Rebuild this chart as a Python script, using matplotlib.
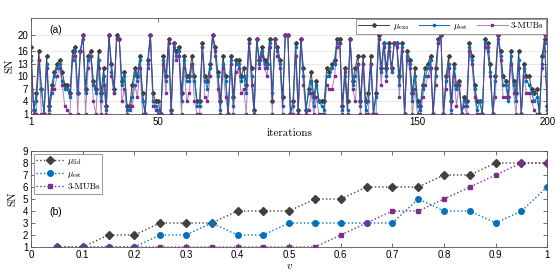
import numpy as np
import matplotlib
matplotlib.use("Agg")
import matplotlib.pyplot as plt
from matplotlib.colors import to_rgba

plt.rcParams['mathtext.fontset'] = 'cm'
plt.rcParams['font.family'] = ['Liberation Sans', 'DejaVu Sans']
plt.rcParams['axes.unicode_minus'] = False

# ---- panel (a): SN vs iterations ----
it = np.arange(1, 201)
sn_exa = [17, 2, 6, 16, 7, 1, 15, 3, 8, 11, 13, 14, 11, 8, 8, 6, 16, 17, 6, 16,
          20, 7, 15, 16, 9, 7, 16, 6, 12, 3, 20, 13, 7, 20, 19, 9, 11, 3, 3, 8,
          12, 10, 15, 6, 1, 14, 20, 6, 4, 4, 1, 15, 10, 19, 2, 18, 16, 17, 6, 15,
          10, 10, 15, 10, 4, 4, 18, 10, 9, 13, 20, 17, 11, 4, 15, 10, 1, 15, 5, 14,
          14, 10, 12, 8, 19, 12, 2, 19, 14, 17, 14, 13, 19, 4, 19, 17, 14, 5, 20, 20,
          1, 4, 18, 2, 19, 12, 2, 7, 11, 5, 9, 4, 4, 4, 12, 11, 13, 14, 19, 19,
          3, 12, 4, 19, 9, 12, 15, 4, 15, 4, 6, 15, 1, 6, 20, 12, 18, 12, 18, 12,
          18, 18, 10, 18, 1, 16, 14, 6, 12, 4, 3, 8, 12, 13, 15, 1, 12, 19, 20, 1,
          10, 15, 4, 13, 8, 9, 1, 5, 4, 18, 15, 8, 4, 4, 1, 19, 18, 13, 1, 10,
          20, 16, 10, 9, 5, 16, 9, 6, 16, 1, 13, 10, 10, 7, 6, 7, 1, 15, 19, 3]
sn_est = [14, 2, 4, 14, 7, 1, 13, 2, 6, 10, 12, 13, 9, 7, 7, 5, 14, 16, 6, 16,
          19, 6, 14, 15, 8, 6, 14, 4, 10, 2, 20, 11, 6, 19, 19, 8, 10, 2, 2, 5,
          11, 9, 14, 4, 1, 13, 20, 4, 3, 2, 1, 14, 9, 18, 1, 17, 15, 16, 4, 14,
          9, 9, 13, 9, 3, 3, 17, 9, 7, 12, 20, 15, 10, 2, 13, 9, 1, 14, 3, 13,
          13, 9, 10, 6, 18, 10, 1, 19, 13, 16, 13, 12, 18, 6, 19, 16, 13, 3, 20, 20,
          1, 3, 17, 1, 19, 10, 2, 6, 9, 3, 8, 4, 3, 2, 10, 10, 12, 13, 18, 18,
          2, 10, 2, 19, 8, 10, 13, 3, 13, 2, 4, 13, 1, 5, 19, 11, 18, 10, 17, 11,
          18, 18, 8, 17, 1, 15, 13, 4, 10, 3, 2, 7, 10, 12, 14, 1, 10, 18, 20, 1,
          9, 13, 2, 12, 7, 8, 1, 4, 3, 17, 14, 7, 2, 4, 1, 18, 16, 11, 1, 9,
          19, 15, 8, 8, 4, 15, 8, 4, 14, 1, 12, 9, 8, 6, 4, 5, 1, 13, 18, 2]
sn_mub = [15, 1, 1, 14, 1, 1, 12, 1, 7, 7, 10, 12, 8, 3, 2, 1, 15, 15, 1, 16,
          20, 1, 12, 15, 4, 1, 12, 1, 8, 1, 20, 10, 6, 19, 19, 4, 7, 1, 3, 3,
          8, 5, 12, 1, 1, 12, 20, 3, 2, 1, 1, 13, 6, 18, 1, 18, 14, 15, 1, 12,
          4, 6, 13, 4, 1, 1, 17, 5, 4, 10, 20, 16, 7, 1, 12, 5, 1, 13, 1, 11,
          12, 6, 7, 1, 18, 8, 1, 19, 12, 15, 12, 10, 17, 1, 19, 15, 12, 1, 20, 20,
          1, 1, 15, 1, 19, 8, 1, 2, 6, 1, 5, 1, 1, 1, 8, 7, 7, 10, 17, 18,
          1, 11, 1, 19, 7, 4, 13, 1, 13, 1, 1, 13, 1, 1, 19, 8, 17, 9, 16, 12,
          18, 17, 5, 16, 1, 14, 12, 1, 7, 1, 1, 5, 8, 10, 12, 1, 8, 18, 20, 1,
          7, 12, 1, 10, 3, 8, 1, 3, 1, 16, 13, 5, 1, 1, 1, 17, 17, 10, 1, 5,
          20, 14, 5, 5, 5, 13, 6, 1, 12, 1, 10, 6, 6, 4, 2, 1, 1, 12, 20, 1]

# ---- panel (b): SN vs v ----
v = np.round(np.arange(1, 21) * 0.05, 2)
sn_fid = [1, 1, 2, 2, 3, 3, 3, 4, 4, 4, 5, 5, 6, 6, 6, 7, 7, 8, 8, 8]
sn_est_v = [1, 1, 1, 1, 2, 2, 3, 2, 2, 3, 3, 3, 3, 3, 5, 4, 4, 3, 4, 6]
sn_mub_v = [1, 1, 1, 1, 1, 1, 1, 1, 1, 1, 1, 2, 3, 4, 4, 5, 6, 7, 8, 8]

c_blk = '#404040'
c_blu = '#0072BD'
c_pur = '#7E2F8E'
serif = 'cmr10'

fig = plt.figure(figsize=(5.55, 2.76), dpi=100)
ax1 = fig.add_axes([0.056, 0.587, 0.930, 0.348])
ax2 = fig.add_axes([0.056, 0.105, 0.930, 0.348])

ax1.plot(it, sn_exa, '-D', color=c_blk, lw=0.7, ms=2.0, label=r'$\mu_{\rm exa}$')
ax1.plot(it, sn_est, '-o', color=c_blu, lw=0.7, ms=1.6, label=r'$\mu_{\rm est}$')
ax1.plot(it, sn_mub, '-s', color=to_rgba(c_pur, 0.6), mfc=c_pur, mec=c_pur,
         lw=0.7, ms=2.0, label='3-MUBs')
ax1.set_xlim(1, 200)
ax1.set_ylim(1, 24)
ax1.set_xticks([1, 50, 150, 200])
ax1.set_yticks([1, 4, 7, 10, 13, 16, 20])
ax1.grid(axis='y', color='#e4e4e4', lw=0.6)
ax1.set_axisbelow(True)
ax1.set_xlabel('iterations', family=serif, fontsize=8, labelpad=1)
ax1.set_ylabel('SN', family=serif, fontsize=8, labelpad=2)
ax1.text(0.047, 0.875, '(a)', transform=ax1.transAxes, fontsize=7.5, ha='center', va='center')
leg1 = ax1.legend(loc='upper right', ncol=3, prop={'family': serif, 'size': 6.5},
                  handlelength=3.4, columnspacing=1.0, handletextpad=0.4,
                  borderaxespad=0.15, borderpad=0.25, fancybox=False, edgecolor='#888888',
                  framealpha=1)
leg1.get_frame().set_linewidth(0.6)

ax2.plot(v, sn_fid, ':D', color=c_blk, lw=1.0, ms=4, label=r'$\mu_{\rm fid}$')
ax2.plot(v, sn_est_v, ':o', color=c_blu, lw=1.0, ms=4, label=r'$\mu_{\rm est}$')
ax2.plot(v, sn_mub_v, ':s', color=c_pur, lw=1.0, ms=3.5, label='3-MUBs')
ax2.set_xlim(0, 1)
ax2.set_ylim(1, 9)
ax2.set_xticks(np.round(np.arange(0, 11) * 0.1, 1))
ax2.set_xticklabels(['0', '0.1', '0.2', '0.3', '0.4', '0.5', '0.6', '0.7', '0.8', '0.9', '1'])
ax2.set_yticks(range(1, 10))
ax2.set_xlabel(r'$v$', fontsize=8, labelpad=1)
ax2.set_ylabel('SN', family=serif, fontsize=8, labelpad=4)
ax2.text(0.047, 0.36, '(b)', transform=ax2.transAxes, fontsize=7.5, ha='center', va='center')
leg2 = ax2.legend(loc='upper left', prop={'family': serif, 'size': 6.5},
                  handlelength=3.0, handletextpad=0.4, labelspacing=0.3,
                  borderaxespad=0.3, borderpad=0.3, fancybox=False, edgecolor='#888888',
                  framealpha=1)
leg2.get_frame().set_linewidth(0.6)

for ax in (ax1, ax2):
    ax.tick_params(direction='in', top=True, right=True, labelsize=7, length=3,
                   width=0.6, color='#555555', pad=2)
    for s in ax.spines.values():
        s.set_linewidth(0.6)
        s.set_color('#555555')

fig.savefig('out.png', dpi=100)
